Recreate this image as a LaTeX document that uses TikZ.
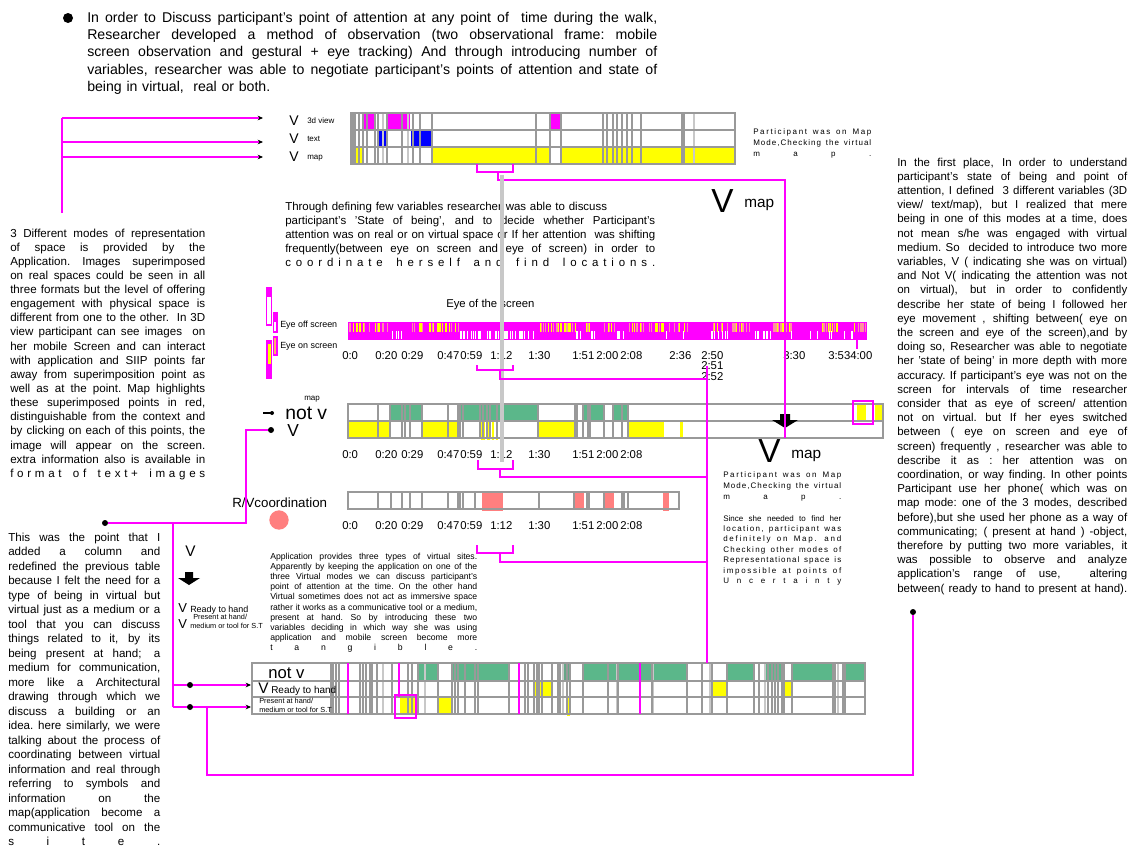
\documentclass[tikz,border=0pt]{standalone}
\usepackage{fontspec}
\setmainfont{Liberation Sans}
\usetikzlibrary{arrows.meta}
\definecolor{mag}{HTML}{FF00FF}
\definecolor{vyel}{HTML}{FFFF00}
\definecolor{vblue}{HTML}{0000FF}
\definecolor{vgreen}{HTML}{5BB78A}
\definecolor{salmon}{HTML}{FF7F7F}
\definecolor{grid}{HTML}{999999}
\definecolor{lgrid}{HTML}{C8C8C8}
\definecolor{pinkst}{HTML}{FF8FA0}

\ExplSyntaxOn
\NewDocumentCommand{\spreadtext}{m}{\str_map_inline:nn{#1}{##1\hfil}\unskip}
\ExplSyntaxOff
% one justified line: every interword space stretches equally
\newcommand{\jline}[1]{\hbox to \hsize{\spaceskip=.278em plus 1fil\xspaceskip=.278em plus 1fil\relax #1}\par}
% one letter-spaced line
\newcommand{\spreadline}[1]{\makebox[\hsize][s]{\spreadtext{#1}}\par}
\newcommand{\plainline}[1]{\hbox{#1}\par}

\begin{document}
\begin{tikzpicture}[x=0.75pt,y=-0.75pt,
  link/.style={draw=mag,line width=1.1pt},
  gl/.style={draw=grid,line width=0.8pt},
  lgl/.style={draw=lgrid,line width=2.2pt},
  dot/.style={circle,fill=black,inner sep=0pt,minimum size=4.5pt},
  lbl/.style={anchor=base west,inner sep=0pt},
  block/.style={anchor=base west,inner sep=0pt},
  tip/.style={-{Stealth[black,length=4pt,width=3.5pt]}},
  tlabel/.style={anchor=base west,inner sep=0pt,font=\fontsize{8.5}{10}\selectfont},
  bigarrow/.style={fill=black}
]
\useasboundingbox (0,0) rectangle (1131,846);
\fill[white] (0,0) rectangle (1131,846);

% ---------- introduction ----------
\node[circle,fill=black,inner sep=0pt,minimum size=7.5pt] (bullet) at (68,18) {};
\node[block,text width=427.5pt,font=\fontsize{10.6}{13.1}\selectfont] (intro) at (87,22) {%
\jline{In order to Discuss participant's point of attention at any point of \ time during the walk,}%
\jline{Researcher developed a method of observation (two observational frame: mobile}%
\jline{screen observation and gestural + eye tracking) And through introducing number of}%
\jline{variables, researcher was able to negotiate participant's points of attention and state of}%
\plainline{being in virtual, \ real or both.}};

% ---------- three representation modes ----------
\fill[mag] (362,113) rectangle (376,130);
\fill[mag] (388,113) rectangle (410,130);
\fill[mag] (550,113) rectangle (561,130);
\fill[vblue] (377,130) rectangle (387,147);
\fill[vblue] (411,130) rectangle (432,147);
\fill[vyel] (351,147) rectangle (362,164);
\fill[vyel] (432,147) rectangle (550,164);
\fill[vyel] (561,147) rectangle (735,164);
\foreach \x in {383,408,694} \draw[lgl] (\x,113) -- (\x,164);
\foreach \x in {353,355,359,363,367,375,378,387,402,413,420,432,536,550,561,603,607,613,617,622,627,632,641,682,684}
  \draw[gl] (\x,113) -- (\x,164);
\draw[gl] (351,113) rectangle (735,164);
\draw[gl] (351,130) -- (735,130);
\draw[gl] (351,147) -- (735,147);

\node[lbl,font=\fontsize{10.5}{12}\selectfont] (v3d) at (289,125) {V};
\node[lbl,font=\fontsize{6}{7}\selectfont] (l3d) at (307,123) {3d view};
\node[lbl,font=\fontsize{10.5}{12}\selectfont] (vtx) at (289,143) {V};
\node[lbl,font=\fontsize{6}{7}\selectfont] (ltx) at (307,141) {text};
\node[lbl,font=\fontsize{10.5}{12}\selectfont] (vmp) at (289,161) {V};
\node[lbl,font=\fontsize{6}{7}\selectfont] (lmp) at (307,159) {map};

\node[block,text width=88.5pt,font=\fontsize{6}{8.6}\selectfont] (notetop) at (753,134) {%
\spreadline{Participant was on Map}%
\spreadline{Mode,Checking the virtual}%
\spreadline{map.}};

\node[lbl,font=\fontsize{25}{28}\selectfont] (vbigtop) at (711,212) {V};
\node[lbl,font=\fontsize{11.5}{13}\selectfont] (mapbigtop) at (744,207) {map};

% connectors from the left explanation to the three rows
\coordinate (L0) at (62,213);
\coordinate (L1) at (62,118);
\coordinate (L2) at (62,142);
\coordinate (L3) at (62,157);
\coordinate (T1) at (263,118);
\coordinate (T2) at (263,142);
\coordinate (T3) at (263,157);
\draw[link] (L0) -- (L1);
\draw[link,tip] (L1) -- (T1);
\draw[link,tip] (L2) -- (T2);
\draw[link,tip] (L3) -- (T3);

% ---------- explanations ----------
\node[block,text width=277.5pt,font=\fontsize{8.6}{10.5}\selectfont] (being) at (285,210) {%
\plainline{Through defining few variables researcher was able to discuss}%
\jline{participant's 'State of being', and to decide whether Participant's}%
\jline{attention was on real or on virtual space or If her attention \ was shifting}%
\jline{frequently(between eye on screen and eye of screen) in order to}%
\spreadline{coordinate herself and find locations.}};

\node[block,text width=146.25pt,font=\fontsize{8.7}{10.6}\selectfont] (modes) at (10,237) {%
\jline{3 Different modes of representation}%
\jline{of space is provided by the}%
\jline{Application. Images superimposed}%
\jline{on real spaces could be seen in all}%
\jline{three formats but the level of offering}%
\jline{engagement with physical space is}%
\jline{different from one to the other. \ In 3D}%
\jline{view participant can see images \ on}%
\jline{her mobile Screen and can interact}%
\jline{with application and SIIP points far}%
\jline{away from superimposition point as}%
\jline{well as at the point. Map highlights}%
\jline{these superimposed points in red,}%
\jline{distinguishable from the context and}%
\jline{by clicking on each of this points, the}%
\jline{image will appear on the screen.}%
\jline{extra information also is available in}%
\spreadline{format of text+ images}};

\node[block,text width=172.5pt,font=\fontsize{8.6}{10.65}\selectfont] (reason) at (897,166) {%
\jline{In the first place, In order to understand}%
\jline{participant's state of being and point of}%
\jline{attention, I defined \ 3 different variables (3D}%
\jline{view/ text/map), but I realized that mere}%
\jline{being in one of this modes at a time, does}%
\jline{not mean s/he was engaged with virtual}%
\jline{medium. So \ decided to introduce two more}%
\jline{variables, V ( indicating she was on virtual)}%
\jline{and Not V( indicating the attention was not}%
\jline{on virtual), but in order to confidently}%
\jline{describe her state of being I followed her}%
\jline{eye movement , shifting between( eye on}%
\jline{the screen and eye of the screen),and by}%
\jline{doing so, Researcher was able to negotiate}%
\jline{her 'state of being' in more depth with more}%
\jline{accuracy. If participant's eye was not on the}%
\jline{screen for intervals of time researcher}%
\jline{consider that as eye of screen/ attention}%
\jline{not on virtual. but If her eyes switched}%
\jline{between ( eye on screen and eye of}%
\jline{screen) frequently , researcher was able to}%
\jline{describe it as : her attention was on}%
\jline{coordination, or way finding. In other points}%
\jline{Participant use her phone( which was on}%
\jline{map mode: one of the 3 modes, described}%
\jline{before),but she used her phone as a way of}%
\jline{communicating; ( present at hand ) -object,}%
\jline{therefore by putting two more variables, it}%
\jline{was possible to observe and analyze}%
\jline{application's range of use, \ altering}%
\jline{between( ready to hand to present at hand).}};

% ---------- eye tracking strip ----------
\node[lbl,font=\fontsize{8.5}{10}\selectfont] (eyetitle) at (446,307) {Eye of the screen};
\fill[mag] (348,322) rectangle (867,340);
\pgfmathsetseed{12}
\foreach \a/\b in {349/390,412/460,540/575,586/590,604/614,628/663,668/690,712/727,732/750,773/793,820/837,853/866}{
  \foreach \x in {\a,...,\b}{
    \pgfmathsetmacro\r{rnd}
    \ifdim\r pt<0.25pt \fill[vyel] (\x,323) rectangle ++(0.9,9);
    \else\ifdim\r pt<0.5pt \fill[pinkst] (\x,323) rectangle ++(0.9,9);\fi\fi
  }}
\foreach \a/\b in {392/408,460/490,493/538,575/597,615/627,664/666,681/683,707/727,755/773,789/791,807/820,829/831,843/853}{
  \foreach \x in {\a,...,\b}{
    \pgfmathsetmacro\r{rnd}
    \ifdim\r pt<0.35pt \fill[white] (\x,331) rectangle ++(0.8,8);\fi
  }}
\draw[mag,line width=1pt] (857,340) -- (857,349);

% legend of the strip
\draw[mag,fill=white,line width=1pt] (266.5,288) rectangle (271.5,325);
\fill[mag] (266,287) rectangle (272,297);
\draw[mag,fill=white,line width=1pt] (273.5,313) rectangle (277,332);
\fill[mag] (273,313) rectangle (277,322);
\fill[mag] (266,340) rectangle (272,379);
\fill[vyel] (267.5,344) rectangle (270.5,364);
\draw[mag,fill=orange!60,line width=1pt] (273.5,337) rectangle (277,355);
\node[lbl,font=\fontsize{6.7}{8}\selectfont] (eyeoff) at (280,327) {Eye off screen};
\node[lbl,font=\fontsize{6.7}{8}\selectfont] (eyeon) at (280,348) {Eye on screen};

\foreach \x/\t in {342/0:0,375/0:20,401/0:29,437/0:47,460/0:59,490/1:12,528/1:30,572/1:51,596/2:00,620/2:08,669/2:36,701/2:50,783/3:30,828/3:53,850/4:00}
  \node[tlabel] (e\x) at (\x,359) {\t};
\node[tlabel] (e251) at (701,369) {2:51};
\node[tlabel] (e252) at (701,380) {2:52};

% ---------- virtual / not virtual strip ----------
\fill[vgreen] (390,404) rectangle (422,421);
\fill[vgreen] (458,404) rectangle (538,421);
\fill[vgreen] (583,404) rectangle (604,421);
\fill[vgreen] (613,404) rectangle (628,421);
\fill[vyel] (857,404) rectangle (866,421);
\fill[vyel] (875,404) rectangle (882,421);
\fill[vyel] (348,421) rectangle (390,438);
\fill[vyel] (423,421) rectangle (458,438);
\fill[vyel] (481,421) rectangle (504,440);
\fill[vyel] (538,421) rectangle (575,438);
\fill[vyel] (621,421) rectangle (623,438);
\fill[vyel] (628,421) rectangle (664,438);
\fill[vyel] (680,421) rectangle (683,438);
\foreach \x in {486,491,495,499} \draw[white,line width=0.8pt] (\x,421) -- (\x,440);
\foreach \x in {378,390,402,405,410,422,448,458,460,463,480,483,487,490,497,538,575,577,583,588,590,604,613,622,628}
  \draw[gl] (\x,404) -- (\x,438);
\draw[gl] (348,404) rectangle (883,438);
\draw[gl] (348,421) -- (883,421);
\draw[mag,line width=0.9pt] (853,401) rectangle (873,424);

\node[lbl,font=\fontsize{6}{7}\selectfont] (mapsmall) at (304,400) {map};
\node[lbl,font=\fontsize{14.5}{16}\selectfont] (notv1) at (285,419) {not v};
\node[lbl,font=\fontsize{13}{15}\selectfont] (v1) at (287,436) {V};
\draw[black,line width=0.8pt] (263,413) -- (272,413);
\node[circle,fill=black,inner sep=0pt,minimum size=3pt] (dnot) at (272,413) {};

\foreach \x/\t in {342/0:0,375/0:20,401/0:29,437/0:47,460/0:59,490/1:12,528/1:30,572/1:51,596/2:00,620/2:08}
  \node[tlabel] (n\x) at (\x,458) {\t};

% map mode callout
\fill[bigarrow] (780,414) -- (790,414) -- (790,420) -- (798,420) -- (785,428) -- (772,420) -- (780,420) -- cycle;
\node[lbl,font=\fontsize{25}{28}\selectfont] (vbigmid) at (758,462) {V};
\node[lbl,font=\fontsize{11.5}{13}\selectfont] (mapbigmid) at (791,458) {map};
\node[block,text width=88.5pt,font=\fontsize{6}{8.25}\selectfont] (notemid) at (723,477) {%
\spreadline{Participant was on Map}%
\spreadline{Mode,Checking the virtual}%
\spreadline{map.}};
\node[block,text width=88.5pt,font=\fontsize{6}{7.8}\selectfont] (since) at (723,521) {%
\jline{Since she needed to find her}%
\spreadline{location, participant was}%
\spreadline{definitely on Map. and}%
\spreadline{Checking other modes of}%
\spreadline{Representational space is}%
\spreadline{impossible at points of}%
\spreadline{Uncertainty}};

% ---------- real / virtual coordination strip ----------
\fill[salmon] (482,492) rectangle (503,511);
\fill[salmon] (574,492) rectangle (584,509);
\fill[salmon] (604,492) rectangle (614,509);
\fill[salmon] (663,492) rectangle (669,511);
\foreach \x in {378,391,402,410,422,448,458,460,463,475,539,574,587,589,604,622,624,628}
  \draw[gl] (\x,492) -- (\x,509);
\draw[gl] (348,492) rectangle (679,509);
\node[lbl,font=\fontsize{10}{12}\selectfont] (rvlabel) at (232,507) {R/Vcoordination};
\node[circle,fill=salmon,inner sep=0pt,minimum size=14.5pt] (rvdot) at (279,520) {};
\foreach \x/\t in {342/0:0,375/0:20,401/0:29,437/0:47,460/0:59,490/1:12,528/1:30,572/1:51,596/2:00,620/2:08}
  \node[tlabel] (r\x) at (\x,529) {\t};

% ---------- explanation of the new column ----------
\node[lbl,font=\fontsize{11.5}{13}\selectfont] (vcol) at (185,556) {V};
\fill[bigarrow] (185,572) -- (193,572) -- (193,578) -- (200,578) -- (189,585) -- (178,578) -- (185,578) -- cycle;
\node[lbl,font=\fontsize{9.75}{11}\selectfont] (vready) at (178,612) {V};
\node[lbl,font=\fontsize{6.7}{8}\selectfont] (ready) at (190,612) {Ready to hand};
\node[lbl,font=\fontsize{9.75}{11}\selectfont] (vpresent) at (178,628) {V};
\node[lbl,font=\fontsize{5.5}{6.5}\selectfont] (present1) at (193,619) {Present at hand/};
\node[lbl,font=\fontsize{5.5}{6.5}\selectfont] (present2) at (190,628) {medium or tool for S.T};

\node[block,text width=155.25pt,font=\fontsize{6.5}{7.65}\selectfont] (appl) at (270,559) {%
\jline{Application provides three types of virtual sites.}%
\jline{Apparently by keeping the application on one of the}%
\jline{three Virtual modes we can discuss participant's}%
\jline{point of attention at the time. On the other hand}%
\jline{Virtual sometimes does not act as immersive space}%
\jline{rather it works as a communicative tool or a medium,}%
\jline{present at hand. So by introducing these two}%
\jline{variables deciding in which way she was using}%
\jline{application and mobile screen become more}%
\spreadline{tangible.}};

\node[block,text width=114pt,font=\fontsize{8.7}{10.875}\selectfont] (column) at (8,541) {%
\jline{This was the point that I}%
\jline{added a column and}%
\jline{redefined the previous table}%
\jline{because I felt the need for a}%
\jline{type of being in virtual but}%
\jline{virtual just as a medium or a}%
\jline{tool that you can discuss}%
\jline{things related to it, by its}%
\jline{being present at hand; a}%
\jline{medium for communication,}%
\jline{more like a Architectural}%
\jline{drawing through which we}%
\jline{discuss a building or an}%
\jline{idea. here similarly, we were}%
\jline{talking about the process of}%
\jline{coordinating between virtual}%
\jline{information and real through}%
\jline{referring to symbols and}%
\jline{information on the}%
\jline{map(application become a}%
\jline{communicative tool on the}%
\spreadline{site.}};

% ---------- final table with the added column ----------
\fill[vgreen] (418,663) rectangle (438,681);
\fill[vgreen] (452,663) rectangle (509,681);
\fill[vgreen!70!gray] (562,663) rectangle (570,681);
\fill[vgreen] (583,663) rectangle (687,681);
\fill[vgreen] (727,663) rectangle (754,681);
\fill[vgreen] (766,663) rectangle (784,681);
\fill[vgreen] (792,663) rectangle (833,681);
\fill[vgreen] (845,663) rectangle (865,681);
\fill[vyel] (534,681) rectangle (552,697);
\fill[vyel] (712,681) rectangle (726,697);
\fill[vyel] (784,681) rectangle (792,697);
\fill[vyel] (843,681) rectangle (845,697);
\fill[vyel] (400,697) rectangle (415,714);
\fill[vyel] (438,697) rectangle (452,714);
\fill[vyel] (567,697) rectangle (570,716);
\fill[vyel] (652,697) rectangle (654,714);
\foreach \x in {383,425,563,617,653,710,765,838} \draw[lgl] (\x,663) -- (\x,714);
\foreach \x in {331,333,336,339,360,363,366,370,372,377,392,408,412,418,438,452,455,458,465,475,478,509,525,528,534,537,539,542,552,558,560,567,570,583,608,618,652,687,702,712,727,754,759,768,772,775,778,782,784,792,833,835,843,845}
  \draw[gl] (\x,663) -- (\x,714);
\draw[gl] (252,663) rectangle (865,714);
\draw[gl] (252,681) -- (865,681);
\draw[gl] (252,697) -- (865,697);
\foreach \x in {348,519,640} \draw[mag,line width=1.2pt] (\x,663) -- (\x,714);
\draw[mag,line width=1.2pt] (399,663) -- (399,697);
\draw[mag,line width=0.9pt] (395,695) rectangle (416,718);

\node[lbl,font=\fontsize{12.5}{14}\selectfont] (notv2) at (268,678) {not v};
\node[lbl,font=\fontsize{11.5}{13}\selectfont] (v2) at (258,693) {V};
\node[lbl,font=\fontsize{7.5}{9}\selectfont] (ready2) at (271,693) {Ready to hand};
\node[lbl,font=\fontsize{5.5}{6.5}\selectfont] (present3) at (259,703) {Present at hand/};
\node[lbl,font=\fontsize{5.5}{6.5}\selectfont] (present4) at (259,712) {medium or tool for S.T};

% ---------- connectors ----------
% map rows of the mode table to the map callout
\coordinate (b1a) at (477,164); \coordinate (b1b) at (477,172);
\coordinate (b1c) at (513,172); \coordinate (b1d) at (513,164);
\coordinate (b1s) at (498,172); \coordinate (b1t) at (498,180);
\coordinate (b1u) at (785,180); \coordinate (b1v) at (785,438);
\draw[link] (b1a) -- (b1b) -- (b1c) -- (b1d);
\draw[link] (b1s) -- (b1t) -- (b1u) -- (b1v);

% shared instant 1:12 marked on each strip
\draw[lgl,line width=3pt] (502,175) -- (502,462);
\coordinate (b2a) at (477,365); \coordinate (b2b) at (477,370);
\coordinate (b2c) at (513,370); \coordinate (b2d) at (513,365);
\coordinate (b2s) at (500,370); \coordinate (b2t) at (500,379);
\coordinate (b2u) at (707,379);
\draw[link] (b2a) -- (b2b) -- (b2c) -- (b2d);
\draw[link] (b2s) -- (b2t) -- (b2u);
\coordinate (spineTop) at (707,366); \coordinate (spineBot) at (707,663);
\draw[link] (spineTop) -- (spineBot);

\coordinate (b3a) at (478,460); \coordinate (b3b) at (478,469);
\coordinate (b3c) at (513,469); \coordinate (b3d) at (513,460);
\coordinate (b3s) at (500,469); \coordinate (b3t) at (500,477);
\coordinate (b3u) at (707,477);
\draw[link] (b3a) -- (b3b) -- (b3c) -- (b3d);
\draw[link] (b3s) -- (b3t) -- (b3u);

\coordinate (b4a) at (477,545); \coordinate (b4b) at (477,553);
\coordinate (b4c) at (513,553); \coordinate (b4d) at (513,545);
\coordinate (b4s) at (500,553); \coordinate (b4t) at (500,562);
\coordinate (b4u) at (707,562);
\draw[link] (b4a) -- (b4b) -- (b4c) -- (b4d);
\draw[link] (b4s) -- (b4t) -- (b4u);

% new column explanation to the V row and the final table
\node[dot] (dA) at (105,523) {};
\node[dot] (dV) at (271,430) {};
\coordinate (cA1) at (246,523); \coordinate (cA2) at (246,430);
\draw[link] (dA) -- (cA1) -- (cA2) -- (dV);
\coordinate (cB0) at (173,523);
\node[dot] (dB1) at (190,685) {};
\node[dot] (dB2) at (190,707) {};
\coordinate (cB1) at (173,685); \coordinate (cB2) at (173,707);
\coordinate (tB1) at (251,685); \coordinate (tB2) at (251,707);
\draw[link] (cB0) -- (cB2);
\draw[link] (cB1) -- (dB1);
\draw[link] (cB2) -- (dB2);
\draw[link,tip] (dB1) -- (tB1);
\draw[link,tip] (dB2) -- (tB2);

% reasoning text to the final table
\node[dot] (dR) at (913,612) {};
\coordinate (cR1) at (913,775); \coordinate (cR2) at (207,775); \coordinate (cR3) at (207,707);
\draw[link] (dR) -- (cR1) -- (cR2) -- (cR3);

\end{tikzpicture}
\end{document}
